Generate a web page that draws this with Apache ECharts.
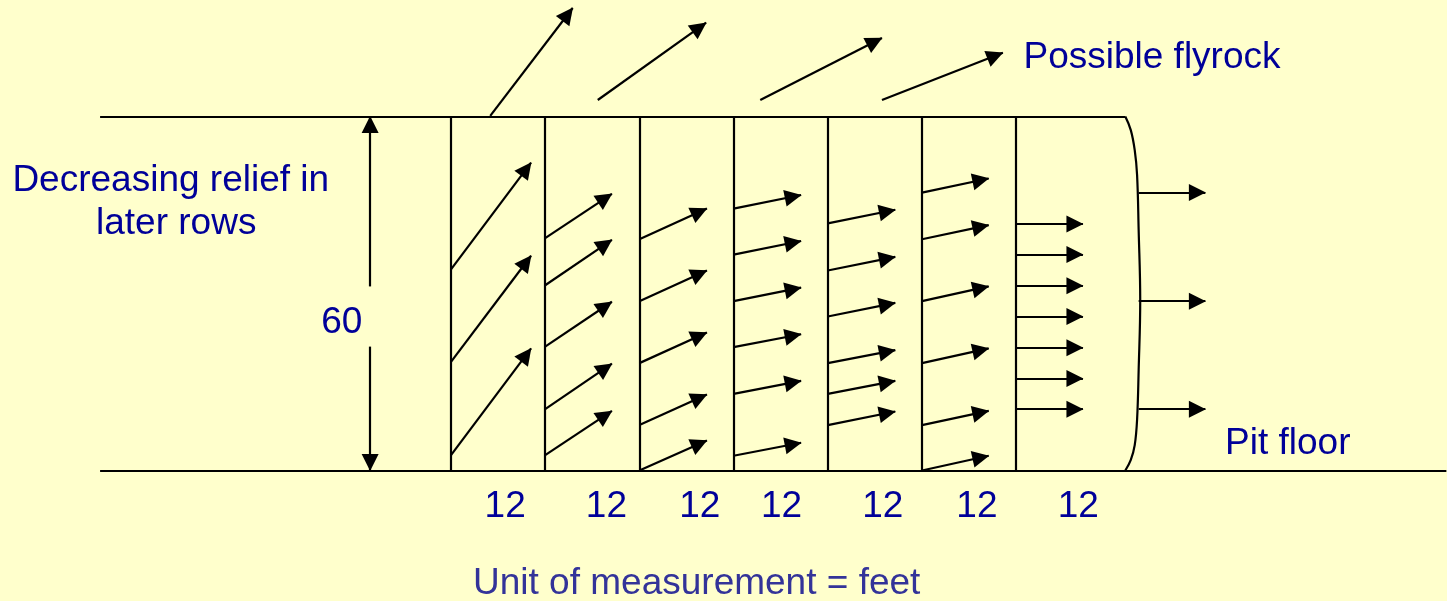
<!DOCTYPE html>
<html><head><meta charset="utf-8">
<script src="https://cdn.jsdelivr.net/npm/echarts@6/dist/echarts.min.js"></script>
<style>html,body{margin:0;padding:0;background:#FFFFCC}#c{width:1447px;height:601px}</style>
</head><body><div id="c"></div><script>
// ---- data (units: feet) ----
const columnEdges = [0, 12, 24, 36, 48, 60, 72];
const benchHeight = 60;
const floorX = [-44.7, 126.8];
const benchTopX = [-44.7, 85.9];
const rowTipX = [10.2, 20.5, 32.6, 44.6, 56.6, 68.5, 80.5];
const rowStartY = [
  [34.1, 18.4, 2.6],
  [39.4, 31.4, 21.0, 10.4, 2.6],
  [39.2, 28.7, 18.2, 7.7, 0],
  [44.4, 36.6, 28.7, 20.9, 13.0, 2.5],
  [41.9, 33.9, 26.1, 18.2, 13.0, 7.7],
  [47.1, 39.2, 28.7, 18.2, 7.7, 0],
  [41.8, 36.6, 31.3, 26.1, 20.8, 15.6, 10.4]
];
const rowTipY = [
  [52.2, 36.4, 20.7],
  [46.9, 39.1, 28.6, 18.1, 10.1],
  [44.4, 33.9, 23.4, 12.9, 5.1],
  [46.7, 38.9, 31.0, 23.1, 15.2, 4.7],
  [44.2, 36.2, 28.4, 20.4, 15.2, 10.0],
  [49.5, 41.6, 31.2, 20.7, 10.1, 2.5],
  [41.8, 36.6, 31.3, 26.1, 20.8, 15.6, 10.4]
];
const flyStart = [[5.0, 60.1], [18.7, 62.8], [39.4, 62.8], [54.9, 62.8]];
const flyTip = [[15.5, 78.4], [32.5, 75.9], [54.9, 73.3], [70.3, 70.8]];
const faceY = [47.1, 28.7, 10.4];
const faceStartX = 87.6;
const faceTipX = 96.1;
const faceCurveX = [85.9, 86.6, 87.1, 87.4, 87.6, 87.8, 87.6, 87.4, 87.1, 86.6, 85.9];
const faceCurveY = [60, 57.7, 54.3, 50.1, 40.8, 28.9, 17.0, 8.6, 4.3, 1.8, 0];
const dimX = -10.3;
const dimGap = [21.0, 31.2];
const spacingLabels = ['12', '12', '12', '12', '12', '12', '12'];
const spacingLabelX = [6.9, 19.8, 31.7, 42.1, 55.0, 67.0, 79.9];
const spacingLabelY = -6.1;
const heightLabel = { text: '60', x: -13.9, y: 25.0 };
const texts = [
  { text: 'Decreasing relief in', x: -35.7, y: 49.1 },
  { text: 'later rows', x: -35.0, y: 41.8 },
  { text: 'Possible flyrock', x: 89.3, y: 69.9 },
  { text: 'Pit floor', x: 106.6, y: 4.5 }
];
const unitText = { text: 'Unit of measurement = feet', x: 31.3, y: -19.2 };
// visible extent of the drawing, in feet
const viewX = [-57.45, 126.88];
const viewY = [-22.12, 79.75];

// ---- build ----
const plainLines = [];
columnEdges.forEach(x => plainLines.push([{ coord: [x, 0] }, { coord: [x, benchHeight] }]));
plainLines.push([{ coord: [floorX[0], 0] }, { coord: [floorX[1], 0] }]);
plainLines.push([{ coord: [benchTopX[0], benchHeight] }, { coord: [benchTopX[1], benchHeight] }]);

const arrows = [];
rowStartY.forEach((ys, i) => ys.forEach((y, j) => {
  arrows.push([{ coord: [columnEdges[i], y] }, { coord: [rowTipX[i], rowTipY[i][j]] }]);
}));
flyStart.forEach((s, i) => arrows.push([{ coord: s }, { coord: flyTip[i] }]));
faceY.forEach(y => arrows.push([{ coord: [faceStartX, y] }, { coord: [faceTipX, y] }]));
arrows.push([{ coord: [dimX, dimGap[1]] }, { coord: [dimX, benchHeight] }]);
arrows.push([{ coord: [dimX, dimGap[0]] }, { coord: [dimX, 0] }]);

const font = '"Liberation Sans", Arial, sans-serif';
const labelData = texts.map(t => ({ value: [t.x, t.y], name: t.text }));
labelData.push({ value: [heightLabel.x, heightLabel.y], name: heightLabel.text });
spacingLabels.forEach((s, i) => labelData.push({ value: [spacingLabelX[i], spacingLabelY], name: s }));

const chart = echarts.init(document.getElementById('c'), null, { renderer: 'canvas' });
chart.setOption({
  backgroundColor: '#FFFFCC',
  animation: false,
  grid: { left: 0, right: 0, top: 0, bottom: 0, outerBoundsMode: 'none' },
  xAxis: { type: 'value', min: viewX[0], max: viewX[1], show: false },
  yAxis: { type: 'value', min: viewY[0], max: viewY[1], show: false },
  series: [
    {
      type: 'line', data: [], clip: false, silent: true,
      markLine: {
        silent: true, animation: false, symbol: ['none', 'none'],
        label: { show: false }, emphasis: { disabled: true },
        lineStyle: { type: 'solid', color: '#000', width: 2.2 },
        data: plainLines
      }
    },
    {
      type: 'line', data: [], clip: false, silent: true,
      markLine: {
        silent: true, animation: false, symbol: ['none', 'triangle'],
        symbolSize: [17, 17], symbolOffset: [[0, 0], [0, 8]],
        label: { show: false }, emphasis: { disabled: true },
        lineStyle: { type: 'solid', color: '#000', width: 2.2 },
        itemStyle: { color: '#000' },
        data: arrows
      }
    },
    {
      type: 'line', clip: false, silent: true, symbol: 'none', smooth: 0.4,
      lineStyle: { color: '#000', width: 2.2 },
      data: faceCurveX.map((x, i) => [x, faceCurveY[i]])
    },
    {
      type: 'scatter', clip: false, silent: true, symbolSize: 0,
      itemStyle: { opacity: 1 },
      label: {
        show: true, position: 'inside', formatter: '{b}', color: '#000099',
        fontFamily: font, fontSize: 37, align: 'center', verticalAlign: 'middle'
      },
      data: labelData
    },
    {
      type: 'scatter', clip: false, silent: true, symbolSize: 0,
      itemStyle: { opacity: 1 },
      label: {
        show: true, position: 'inside', formatter: '{b}', color: '#333399',
        fontFamily: font, fontSize: 37, align: 'center', verticalAlign: 'middle'
      },
      data: [{ value: [unitText.x, unitText.y], name: unitText.text }]
    }
  ]
});
</script></body></html>
